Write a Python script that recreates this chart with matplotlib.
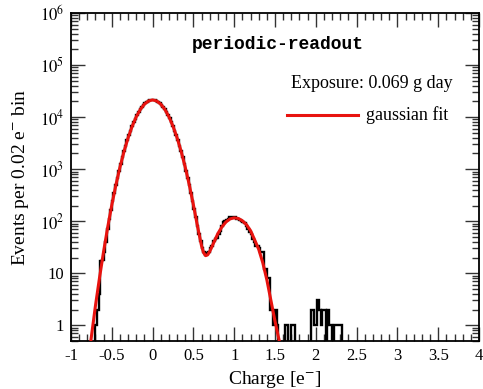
import numpy as np
import matplotlib
matplotlib.use("Agg")
import matplotlib.pyplot as plt
from matplotlib.ticker import MultipleLocator, LogLocator, FixedLocator, FixedFormatter, NullFormatter

# histogram: 0.02 e- bins, counts (first bin starts at -0.72)
bin_width = 0.02
first_edge = -0.72
counts = [
    0, 1, 2, 4, 17, 18, 26, 40, 70, 110,            # -0.72 .. -0.54
    165, 240, 350, 500, 690, 940, 1270, 1690, 2200, 2830,   # -0.52 .. -0.34
    3590, 4480, 5510, 6680, 7980, 9400, 10900, 12500, 14070, 15600,  # -0.32 .. -0.14
    17000, 18300, 19500, 20400, 21000, 21350, 21350, 21000, 20400, 19500,  # -0.12 .. 0.06
    18400, 17060, 15630, 14070, 12500, 10940, 9420, 8000, 6680, 5510,  # 0.08 .. 0.26
    4480, 3580, 2830, 2190, 1680, 1265, 940, 690, 495, 350,  # 0.28 .. 0.46
    247, 172, 118, 80, 56, 42, 30, 26, 22, 24,        # 0.48 .. 0.66
    26, 30, 34, 42, 46, 48, 58, 66, 80, 96,          # 0.68 .. 0.86
    100, 104, 110, 118, 120, 120, 118, 112, 110, 104,   # 0.88 .. 1.06
    100, 96, 92, 80, 72, 62, 56, 46, 40, 34,          # 1.08 .. 1.26
    34, 30, 26, 26, 12, 12, 8, 8, 2, 2,               # 1.28 .. 1.46
    1, 2, 1, 0, 0, 0, 0, 1, 1, 0,                      # 1.48 .. 1.66
    0, 1, 1, 0, 0, 0, 0, 0, 0, 0,                      # 1.68 .. 1.86
    0, 0, 0, 2, 2, 1, 1, 3, 2, 1,                      # 1.88 .. 2.06
    2, 2, 0, 2, 1, 1, 0, 1, 1, 1,                      # 2.08 .. 2.26
    1, 1, 0,                                           # 2.28 .. 2.32
]

# gaussian fit curve
fit_x = [-0.80, -0.75, -0.70, -0.65, -0.60, -0.55, -0.50, -0.45, -0.40, -0.35,
         -0.30, -0.25, -0.20, -0.15, -0.10, -0.05, 0.00, 0.05, 0.10, 0.15,
         0.20, 0.25, 0.30, 0.35, 0.40, 0.45, 0.50, 0.55, 0.60, 0.625,
         0.65, 0.675, 0.70, 0.75, 0.80, 0.85, 0.90, 0.95, 1.00, 1.05,
         1.10, 1.15, 1.20, 1.25, 1.30, 1.35, 1.40, 1.45, 1.50, 1.55, 1.60]
fit_y = [0.15, 0.61, 2.4, 8.3, 26.5, 77, 205, 495, 1090, 2190,
         4010, 6680, 10160, 14070, 17750, 20400, 21400, 20400, 17750, 14070,
         10160, 6680, 4010, 2190, 1090, 496, 206, 80.5, 33.5, 24.8,
         21.8, 22.6, 26.2, 39, 58, 78, 97, 111, 116, 113,
         102, 86, 66, 44, 29, 16, 7.5, 3.0, 1.2, 0.52, 0.2]

exposure_text = "Exposure: 0.069 g day"
fit_label = "gaussian fit"
title_text = "periodic-readout"

plt.rcParams['font.family'] = ['Liberation Serif', 'DejaVu Serif']
plt.rcParams['mathtext.fontset'] = 'stix'

fig = plt.figure(figsize=(4.83, 3.89), dpi=100)
ax = fig.add_axes([71 / 483, 1 - 341 / 389, (479 - 71) / 483, (341 - 13) / 389])

counts = np.array(counts, dtype=float)
edges = first_edge + bin_width * np.arange(len(counts) + 1)
# zero bins drawn down to the lower edge of the frame
shown = np.where(counts > 0, counts, 0.01)
xs = np.concatenate([[-1.0], np.repeat(edges, 2), [4.0]])
ys = np.concatenate([[0.01, 0.01], np.repeat(shown, 2), [0.01, 0.01]])
ax.plot(xs, ys, color='black', lw=1.7, solid_joinstyle='miter', zorder=2)

ax.plot(fit_x, fit_y, color='#e8130f', lw=2.2, zorder=3)

ax.set_yscale('log')
ax.set_xlim(-1, 4)
ax.set_ylim(0.5, 1e6)

ax.xaxis.set_minor_locator(MultipleLocator(0.1))
ax.set_xticks([-1, -0.5, 0, 0.5, 1, 1.5, 2, 2.5, 3, 3.5, 4])
ax.set_xticklabels(['-1', '-0.5', '0', '0.5', '1', '1.5', '2', '2.5', '3', '3.5', '4'])

yt = [1, 10, 1e2, 1e3, 1e4, 1e5, 1e6]
ax.yaxis.set_major_locator(FixedLocator(yt))
ax.yaxis.set_major_formatter(FixedFormatter(['1', '10', r'$10^{2}$', r'$10^{3}$',
                                             r'$10^{4}$', r'$10^{5}$', r'$10^{6}$']))
ax.yaxis.set_minor_locator(LogLocator(base=10, subs=np.arange(2, 10), numticks=20))
ax.yaxis.set_minor_formatter(NullFormatter())

ax.tick_params(which='both', direction='in', top=True, right=True, width=1.0, color='#333333')
ax.tick_params(which='major', length=10, labelsize=12, pad=5)
ax.tick_params(which='minor', length=5)
for s in ax.spines.values():
    s.set_linewidth(1.3)

ax.set_xlabel('Charge [e$^{-}$]', fontsize=14, labelpad=4)
ax.set_ylabel('Events per 0.02 e$^{-}$ bin', fontsize=14, labelpad=6)

ax.text(0.507, 0.905, title_text, transform=ax.transAxes, ha='center', va='center',
        family='Liberation Mono', fontweight='bold', fontsize=13)
ax.text(0.935, 0.785, exposure_text, transform=ax.transAxes, ha='right', va='center', fontsize=13)
ax.plot([0.529, 0.703], [0.69, 0.69], transform=ax.transAxes, color='#e8130f', lw=2.2)
ax.text(0.722, 0.69, fit_label, transform=ax.transAxes, ha='left', va='center', fontsize=13)

fig.savefig('out.png', dpi=100)
